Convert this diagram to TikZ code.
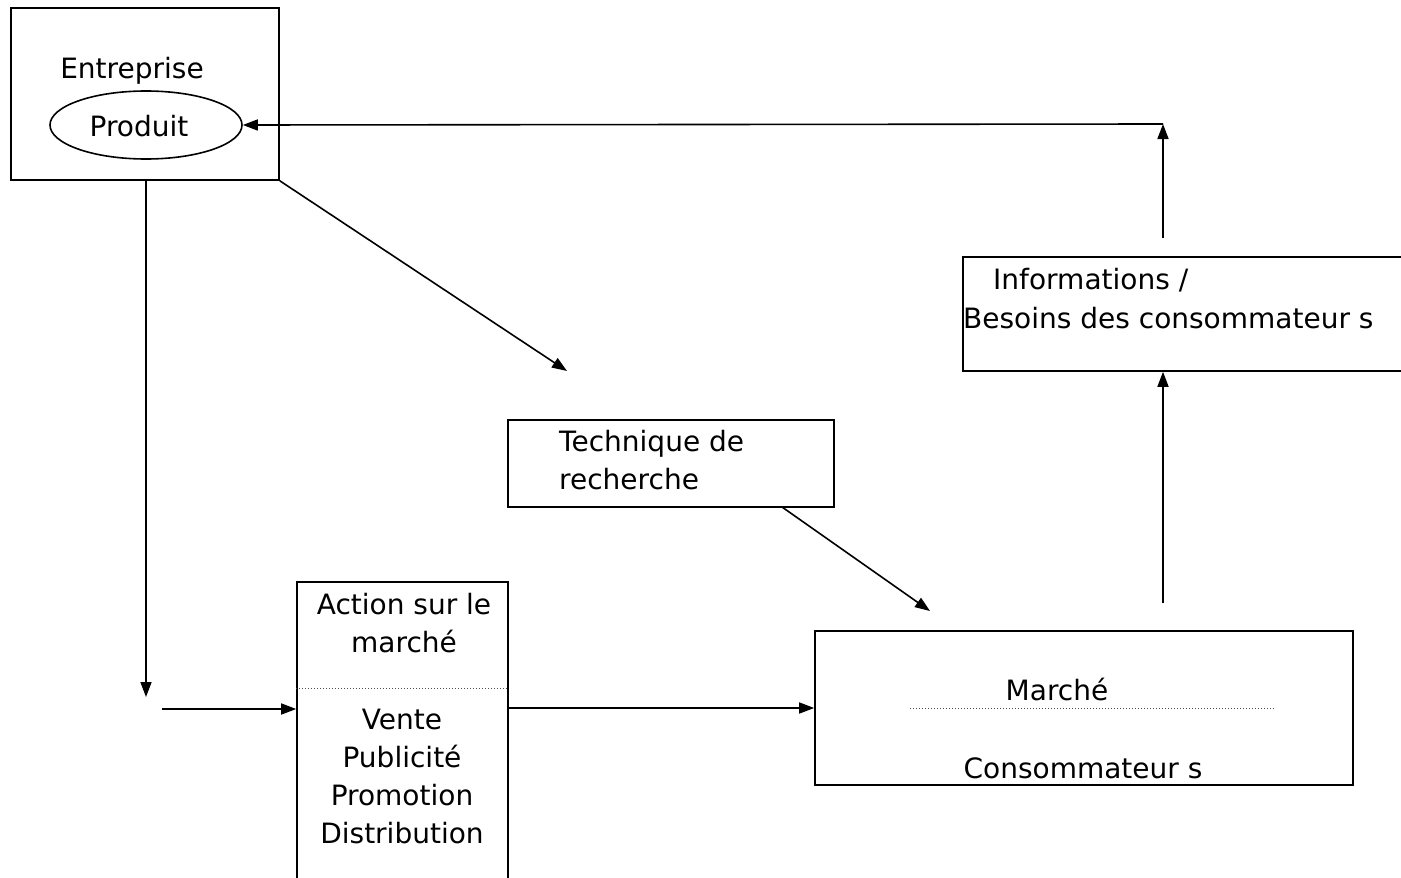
\documentclass[tikz,border=0pt]{standalone}
\usepackage{fontspec}
\setmainfont{DejaVu Sans}
\usepackage{tikz}
\usetikzlibrary{arrows.meta,positioning,shapes.geometric}

\tikzset{
  box/.style={draw, line width=1.6pt, inner sep=0pt},
  txt/.style={anchor=base, inner sep=0pt},
  arr/.style={line width=1.6pt, -{Triangle[length=15pt,width=11pt]}},
  sep/.style={dotted, line width=1pt, black!70}
}

\begin{document}
\begin{tikzpicture}[x=1pt, y=-1pt, font=\fontsize{28}{38}\selectfont]
  \useasboundingbox (0,0) rectangle (1401,878);
  % boxes
  \node[box, minimum width=268pt, minimum height=172pt] (entreprise) at (145,94) {};
  \node[box, ellipse, minimum width=192pt, minimum height=68pt] (produit) at (146,125) {};
  \node[box, minimum width=211pt, minimum height=300pt] (action) at (402.5,732) {};
  \node[box, minimum width=326pt, minimum height=87pt] (technique) at (671,463.5) {};
  \node[box, minimum width=538pt, minimum height=154pt] (marche) at (1084,708) {};
  \node[box, minimum width=450pt, minimum height=114pt] (info) at (1188,314) {};
  % texts
  \node[txt] (tEntreprise) at (132,78) {Entreprise};
  \node[txt] (tProduit) at (139,136) {Produit};
  \node[txt] (tAction1) at (404,614) {Action sur le};
  \node[txt] (tAction2) at (404,652) {marché};
  \node[txt] (tVente) at (402,729) {Vente};
  \node[txt] (tPub) at (402,767) {Publicité};
  \node[txt] (tPromo) at (402,805) {Promotion};
  \node[txt] (tDistr) at (402,843) {Distribution};
  \node[txt, anchor=base west] (tTech1) at (559,451) {Technique de};
  \node[txt, anchor=base west] (tTech2) at (559,489) {recherche};
  \node[txt] (tMarche) at (1057,700) {Marché};
  \node[txt] (tConso) at (1083,778) {Consommateur s};
  \node[txt, anchor=base west] (tInfo1) at (993,289) {Informations /};
  \node[txt, anchor=base west] (tInfo2) at (963,328) {Besoins des consommateur s};
  % dotted separators
  \draw[sep] (action.west |- 0,688) -- (action.east |- 0,688);
  \draw[sep] (910,708) -- (1275,708);
  % free ends
  \coordinate (down) at (146,697);
  \coordinate (in) at (162,709);
  \coordinate (diag) at (567,371);
  \coordinate (techOut) at (782,507);
  \coordinate (toMarche) at (930,611);
  \coordinate (up) at (1163,603);
  \coordinate (back) at (1163,238);
  \coordinate (corner) at (1163,124);
  % connectors
  \draw[arr] (down |- entreprise.south) -- (down);
  \draw[arr] (in) -- (in -| action.west);
  \draw[arr] (action.east |- marche.west) -- (marche.west);
  \draw[arr] (entreprise.south east) -- (diag);
  \draw[arr] (techOut) -- (toMarche);
  \draw[arr] (up) -- (up |- info.south);
  \draw[arr] (back) -- (corner);
  \draw[arr] (corner) -- (produit.east);
\end{tikzpicture}
\end{document}
